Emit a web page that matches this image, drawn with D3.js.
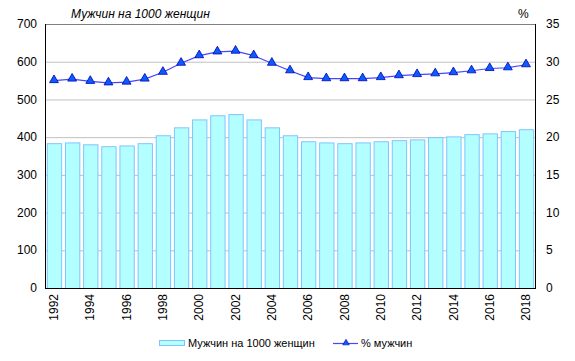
<!DOCTYPE html>
<html>
<head>
<meta charset="utf-8">
<script src="https://cdn.jsdelivr.net/npm/d3@7"></script>
<style>
  body { margin: 0; background: #fff; }
  text { font-family: Arial, "Liberation Sans", sans-serif; }
</style>
</head>
<body>
<script>
var width = 575,
    height = 361;

// data
var years = [1992, 1993, 1994, 1995, 1996, 1997, 1998, 1999, 2000, 2001, 2002, 2003, 2004,
             2005, 2006, 2007, 2008, 2009, 2010, 2011, 2012, 2013, 2014, 2015, 2016, 2017, 2018];
var menPer1000 = [384, 386, 381, 376, 378, 384, 405, 426, 447, 458, 461, 447, 426,
                  405, 389, 386, 384, 386, 389, 392, 394, 400, 402, 408, 410, 416, 421];
var pctMen = [27.5, 27.7, 27.4, 27.2, 27.3, 27.7, 28.6, 29.8, 30.8, 31.3, 31.4, 30.8, 29.8,
              28.8, 27.9, 27.75, 27.75, 27.75, 27.9, 28.15, 28.3, 28.4, 28.55, 28.8, 29.1, 29.2, 29.6];
var leftTicks = [0, 100, 200, 300, 400, 500, 600, 700];
var rightTicks = [0, 5, 10, 15, 20, 25, 30, 35];

var m = {left: 45, right: 40, top: 24, bottom: 73};
var pw = width - m.left - m.right,
    ph = height - m.top - m.bottom;

var svg = d3.select("body")
    .append("svg")
    .attr("width", width)
    .attr("height", height);

var x = d3.scaleBand().domain(years).range([m.left, m.left + pw]).paddingInner(0.21).paddingOuter(0.1);
var yL = d3.scaleLinear().domain([0, 700]).range([m.top + ph, m.top]);
var yR = d3.scaleLinear().domain([0, 35]).range([m.top + ph, m.top]);

// gridlines
svg.append("g")
    .selectAll("line")
    .data(leftTicks.slice(1, -1))
    .enter()
    .append("line")
    .attr("x1", m.left).attr("x2", m.left + pw)
    .attr("y1", d => yL(d) + 0.5).attr("y2", d => yL(d) + 0.5)
    .attr("stroke", "#c0c0c0");

// top border
svg.append("line")
    .attr("x1", m.left).attr("x2", m.left + pw)
    .attr("y1", m.top + 0.5).attr("y2", m.top + 0.5)
    .attr("stroke", "#808080");

// bars
svg.append("g")
    .selectAll("rect")
    .data(menPer1000)
    .enter()
    .append("rect")
    .attr("x", (d, i) => x(years[i]) + 0.5)
    .attr("y", d => yL(d) + 0.5)
    .attr("width", x.bandwidth())
    .attr("height", d => yL(0) - yL(d))
    .attr("fill", "#b3ffff")
    .attr("stroke", "#80c4ff");

// line + triangles
var cx = (d, i) => x(years[i]) + x.bandwidth() / 2;
var line = d3.line().x(cx).y(d => yR(d));
svg.append("path")
    .datum(pctMen)
    .attr("d", line)
    .attr("fill", "none")
    .attr("stroke", "#4646ff")
    .attr("stroke-width", 1.2);

var tri = d3.symbol().type(d3.symbolTriangle).size(34);
svg.append("g")
    .selectAll("path")
    .data(pctMen)
    .enter()
    .append("path")
    .attr("d", tri)
    .attr("transform", (d, i) => "translate(" + cx(d, i) + "," + (yR(d) - 0.5) + ")")
    .attr("fill", "#0a5cff")
    .attr("stroke", "#0000b0")
    .attr("stroke-width", 0.8);

// axes frame
svg.append("line")
    .attr("x1", m.left + 0.5).attr("x2", m.left + 0.5)
    .attr("y1", m.top).attr("y2", m.top + ph + 1)
    .attr("stroke", "#000");
svg.append("line")
    .attr("x1", m.left + pw + 0.5).attr("x2", m.left + pw + 0.5)
    .attr("y1", m.top).attr("y2", m.top + ph + 1)
    .attr("stroke", "#000");
svg.append("line")
    .attr("x1", m.left).attr("x2", m.left + pw + 1)
    .attr("y1", m.top + ph + 0.5).attr("y2", m.top + ph + 0.5)
    .attr("stroke", "#000");

// tick labels
svg.append("g")
    .selectAll("text")
    .data(leftTicks)
    .enter()
    .append("text")
    .attr("x", 37)
    .attr("y", d => yL(d))
    .attr("dy", "0.35em")
    .attr("text-anchor", "end")
    .style("font-size", "12px")
    .text(d => d);

svg.append("g")
    .selectAll("text")
    .data(rightTicks)
    .enter()
    .append("text")
    .attr("x", m.left + pw + 11)
    .attr("y", d => yR(d))
    .attr("dy", "0.35em")
    .style("font-size", "12px")
    .text(d => d);

svg.append("g")
    .selectAll("text")
    .data(years.filter(d => d % 2 == 0))
    .enter()
    .append("text")
    .attr("transform", d => "translate(" + (x(d) + x.bandwidth() / 2) + "," + (m.top + ph + 6) + ") rotate(-90)")
    .attr("dy", "0.35em")
    .attr("text-anchor", "end")
    .style("font-size", "12px")
    .text(d => d);

// titles
svg.append("text")
    .attr("x", 71).attr("y", 18)
    .style("font-size", "12px")
    .style("font-style", "italic")
    .text("Мужчин на 1000 женщин");
svg.append("text")
    .attr("x", 518).attr("y", 18)
    .style("font-size", "12px")
    .text("%");

// legend
var ly = 343;
svg.append("rect")
    .attr("x", 159.5).attr("y", ly - 2.5)
    .attr("width", 25).attr("height", 5)
    .attr("fill", "#b3ffff").attr("stroke", "#80c4ff");
svg.append("text")
    .attr("x", 188).attr("y", ly)
    .attr("dy", "0.35em")
    .style("font-size", "11px")
    .text("Мужчин на 1000 женщин");
svg.append("line")
    .attr("x1", 333).attr("x2", 358)
    .attr("y1", ly + 0.5).attr("y2", ly + 0.5)
    .attr("stroke", "#4646ff").attr("stroke-width", 1.2);
svg.append("path")
    .attr("d", d3.symbol().type(d3.symbolTriangle).size(18))
    .attr("transform", "translate(346," + ly + ")")
    .attr("fill", "#0a5cff").attr("stroke", "#0000b0").attr("stroke-width", 0.6);
svg.append("text")
    .attr("x", 361).attr("y", ly)
    .attr("dy", "0.35em")
    .style("font-size", "11px")
    .text("% мужчин");
</script>
</body>
</html>
